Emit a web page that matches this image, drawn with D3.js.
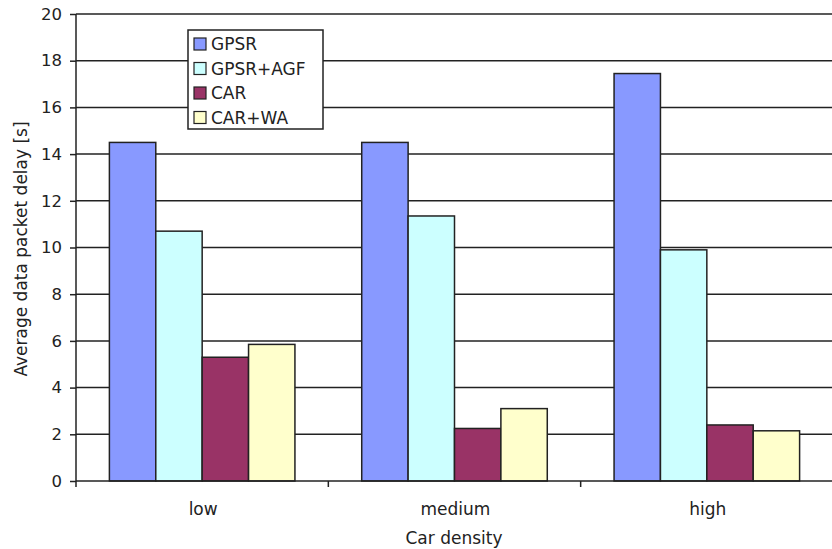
<!DOCTYPE html>
<html>
<head>
<meta charset="utf-8">
<script src="https://cdn.jsdelivr.net/npm/d3@7"></script>
<style>
  body { margin: 0; background: #fff; }
  svg { font-family: "DejaVu Sans", sans-serif; }
</style>
</head>
<body>
<svg width="832" height="549"></svg>
<script>
// data
var densities = ["low", "medium", "high"];
var seriesNames = ["GPSR", "GPSR+AGF", "CAR", "CAR+WA"];
var gpsr    = [14.5, 14.5, 17.45];
var gpsrAgf = [10.7, 11.35, 9.9];
var car     = [5.3, 2.25, 2.4];
var carWa   = [5.85, 3.1, 2.15];
var yTicks  = [0, 2, 4, 6, 8, 10, 12, 14, 16, 18, 20];
var colors  = ["#8899ff", "#ccffff", "#993366", "#ffffcc"];

var values = [gpsr, gpsrAgf, car, carWa];

var svg = d3.select("svg");
var mLeft = 76, mRight = 833, mTop = 14, mBottom = 481;
var ink = "#222";

var x = d3.scaleBand().domain(densities).range([mLeft, mRight]).paddingInner(0).paddingOuter(0);
var xs = d3.scaleBand().domain(seriesNames).range([0, x.bandwidth()]).paddingOuter(0.72).paddingInner(0);
var y = d3.scaleLinear().domain([0, 20]).range([mBottom, mTop]);

// gridlines
svg.append("g")
  .selectAll("line")
  .data(yTicks.filter(function (d) { return d > 0; }))
  .enter()
  .append("line")
  .attr("x1", mLeft).attr("x2", 832)
  .attr("y1", function (d) { return y(d); })
  .attr("y2", function (d) { return y(d); })
  .attr("stroke", ink)
  .attr("stroke-width", 1.5);

// bars
var groups = svg.append("g")
  .selectAll("g")
  .data(densities)
  .enter()
  .append("g")
  .attr("transform", function (d) { return "translate(" + x(d) + ",0)"; });

groups.selectAll("rect")
  .data(function (d, i) {
    return seriesNames.map(function (s, j) { return { s: s, j: j, v: values[j][i] }; });
  })
  .enter()
  .append("rect")
  .attr("x", function (d) { return xs(d.s); })
  .attr("width", xs.bandwidth())
  .attr("y", function (d) { return y(d.v); })
  .attr("height", function (d) { return y(0) - y(d.v); })
  .attr("fill", function (d) { return colors[d.j]; })
  .attr("stroke", ink)
  .attr("stroke-width", 1.5);

// y axis
var yAxis = svg.append("g")
  .attr("transform", "translate(" + mLeft + ",0)")
  .call(d3.axisLeft(y).tickValues(yTicks).tickSize(6).tickPadding(8));
yAxis.select(".domain").remove();
yAxis.selectAll(".tick line").attr("stroke", ink).attr("stroke-width", 1.5);
yAxis.selectAll("text").attr("font-size", 16.5).attr("fill", ink)
  .attr("font-family", "DejaVu Sans, sans-serif");
svg.append("line")
  .attr("x1", mLeft).attr("x2", mLeft).attr("y1", mTop).attr("y2", mBottom + 6)
  .attr("stroke", ink).attr("stroke-width", 1.5);

// x axis
svg.append("line")
  .attr("x1", mLeft).attr("x2", 832).attr("y1", mBottom).attr("y2", mBottom)
  .attr("stroke", ink).attr("stroke-width", 1.5);
svg.append("g")
  .selectAll("line")
  .data(densities.slice(1))
  .enter()
  .append("line")
  .attr("x1", function (d) { return x(d); })
  .attr("x2", function (d) { return x(d); })
  .attr("y1", mBottom).attr("y2", mBottom + 6)
  .attr("stroke", ink).attr("stroke-width", 1.5);
svg.append("g")
  .selectAll("text")
  .data(densities)
  .enter()
  .append("text")
  .attr("x", function (d) { return x(d) + x.bandwidth() / 2 + 1; })
  .attr("y", 515)
  .attr("text-anchor", "middle")
  .attr("font-size", 17)
  .attr("fill", ink)
  .text(function (d) { return d; });

// axis titles
svg.append("text")
  .attr("x", 454).attr("y", 544)
  .attr("text-anchor", "middle")
  .attr("font-size", 17)
  .attr("fill", ink)
  .text("Car density");
svg.append("text")
  .attr("transform", "translate(27,249) rotate(-90)")
  .attr("text-anchor", "middle")
  .attr("font-size", 17)
  .attr("fill", ink)
  .text("Average data packet delay [s]");

// legend
var legend = svg.append("g").attr("transform", "translate(188,30)");
legend.append("rect")
  .attr("width", 135).attr("height", 99)
  .attr("fill", "#fff").attr("stroke", ink).attr("stroke-width", 1.5);
var items = legend.selectAll("g.item")
  .data(seriesNames)
  .enter()
  .append("g")
  .attr("class", "item")
  .attr("transform", function (d, i) { return "translate(6," + (14 + i * 24.5) + ")"; });
items.append("rect")
  .attr("x", 0).attr("y", -6).attr("width", 12).attr("height", 12)
  .attr("fill", function (d, i) { return colors[i]; })
  .attr("stroke", ink).attr("stroke-width", 1.2);
items.append("text")
  .attr("x", 17).attr("y", 6)
  .attr("font-size", 17)
  .attr("fill", ink)
  .text(function (d) { return d; });
</script>
</body>
</html>
